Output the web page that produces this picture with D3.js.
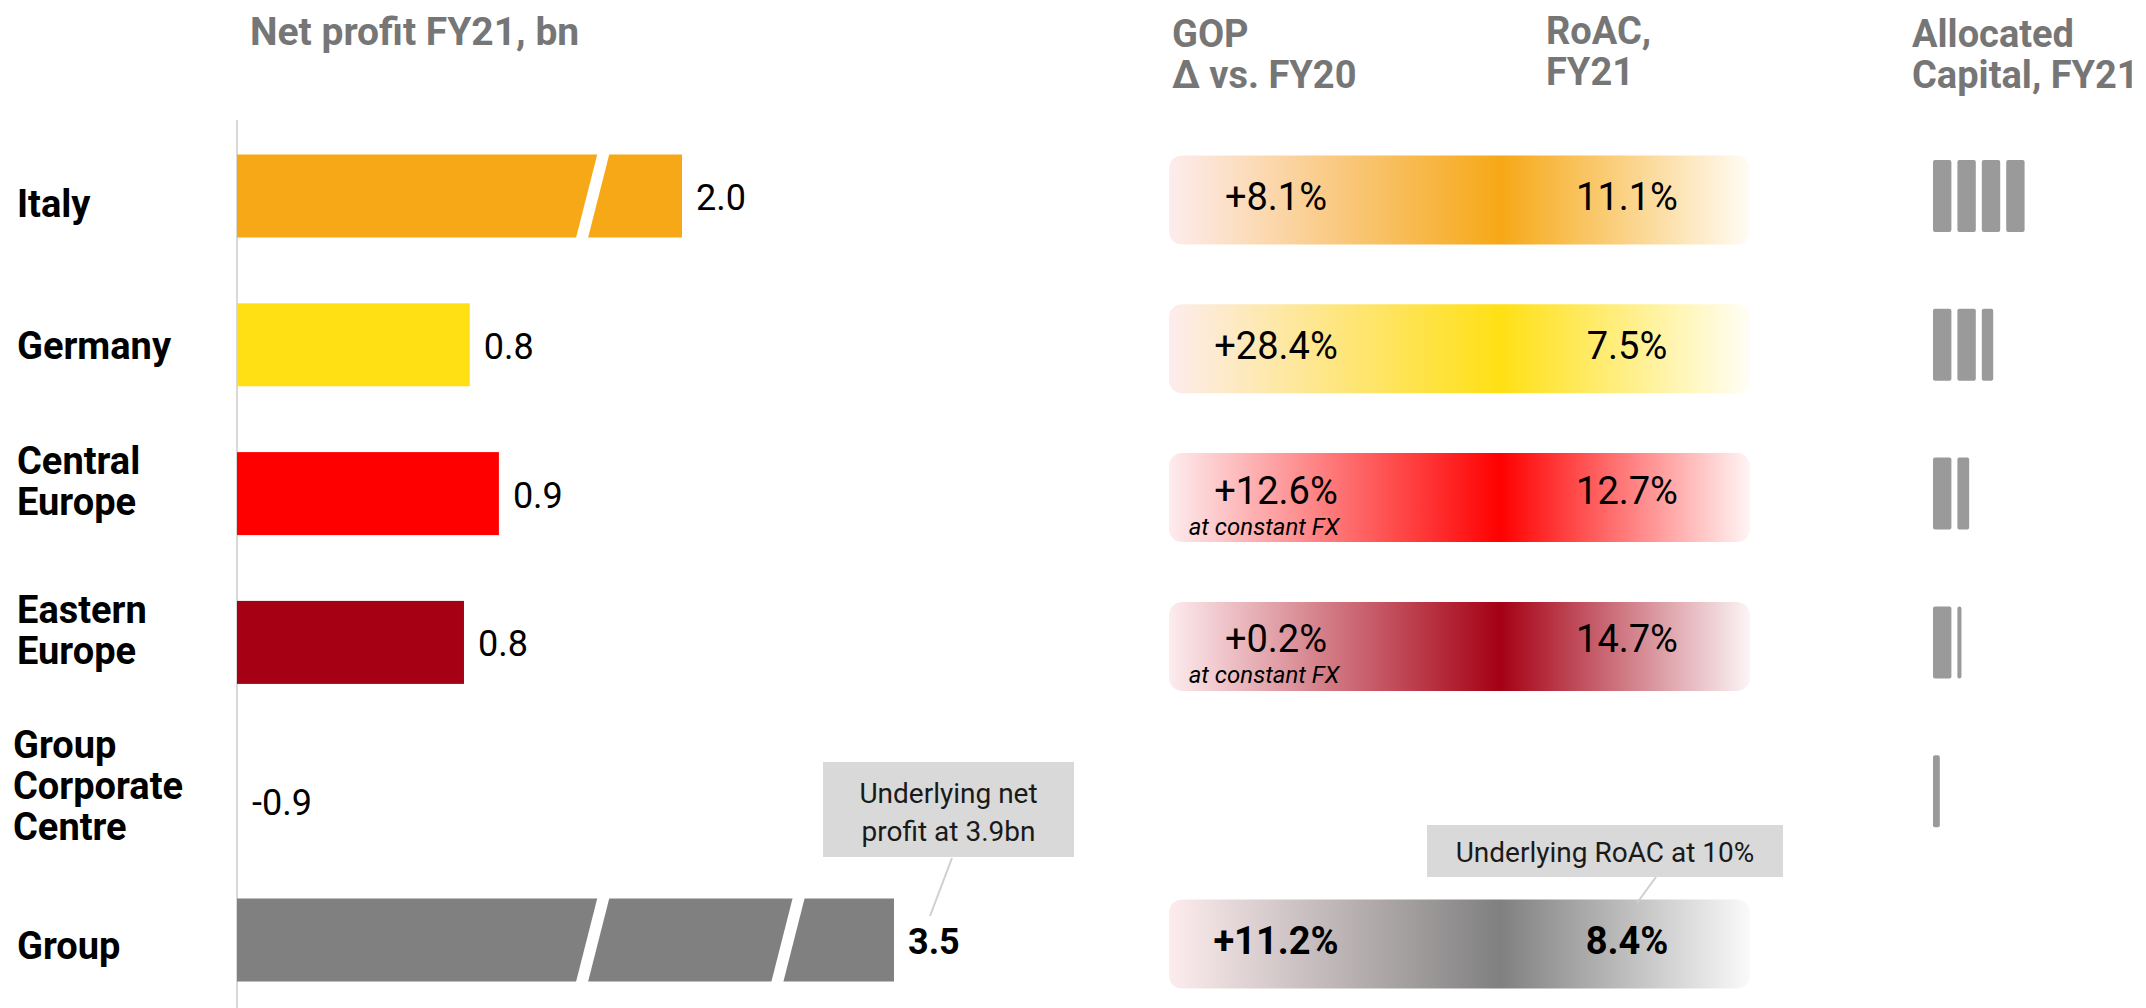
<!DOCTYPE html>
<html>
<head>
<meta charset="utf-8">
<script src="https://cdn.jsdelivr.net/npm/d3@7"></script>
<style>
  html, body { margin: 0; padding: 0; background: #fff; }
  svg { display: block; font-family: Roboto, "Noto Sans", "DejaVu Sans", sans-serif; }
</style>
</head>
<body>
<svg id="chart" width="2146" height="1008"></svg>
<script>
// ---------------- DATA ----------------
const categories = ["Italy", "Germany", "Central Europe", "Eastern Europe", "Group Corporate Centre", "Group"];
const categoryLines = [["Italy"], ["Germany"], ["Central", "Europe"], ["Eastern", "Europe"], ["Group", "Corporate", "Centre"], ["Group"]];
const netProfit = [2.0, 0.80, 0.90, 0.78, -0.9, 3.5];           // bn
const netProfitLabels = ["2.0", "0.8", "0.9", "0.8", "-0.9", "3.5"];
const gopDelta = [8.1, 28.4, 12.6, 0.2, null, 11.2];             // % vs FY20
const gopNotes = [null, null, "at constant FX", "at constant FX", null, null];
const roac = [11.1, 7.5, 12.7, 14.7, null, 8.4];                 // % FY21
const allocatedCapital = [4.0, 2.62, 1.64, 1.22, 0.37, null];    // capital blocks
const rowColors = ["#F6A816", "#FFE014", "#FF0000", "#A50014", null, "#808080"];
const axisBreaks = [1.42, 2.75];                                  // break marks on long bars
const headers = {
  net: ["Net profit FY21, bn"],
  gop: ["GOP", "Δ vs. FY20"],
  roac: ["RoAC,", "FY21"],
  cap: ["Allocated", "Capital, FY21"]
};
const netCallout = ["Underlying net", "profit at 3.9bn"];
const roacCallout = ["Underlying RoAC at 10%"];

// ---------------- SETUP ----------------
const svg = d3.select("#chart");
const totalIdx = categories.length - 1;
const rows = categories.map((c, i) => ({
  cat: c, lines: categoryLines[i], np: netProfit[i], npLabel: netProfitLabels[i],
  gop: gopDelta[i], note: gopNotes[i], roac: roac[i], cap: allocatedCapital[i],
  color: rowColors[i], total: i === totalIdx, i
}));

const y = d3.scaleBand().domain(categories).range([121.6, 1014.4]).padding(0);
const cy = c => y(c) + y.bandwidth() / 2;
// broken axis: compressed beyond 1bn
const x = d3.scaleLinear().domain([0, 1, 2, 3.5]).range([237, 528, 682, 894]);
const barH = 83;

const headColor = "#767676";

// ---------------- HEADERS ----------------
function header(lines, x0, base, size) {
  svg.append("text").attr("x", x0).attr("y", base)
    .attr("font-size", size).attr("font-weight", 700).attr("fill", headColor)
    .selectAll("tspan").data(lines).join("tspan")
    .attr("x", x0).attr("dy", (d, k) => k === 0 ? 0 : 41).text(d => d);
}
header(headers.net, 250, 45, 39);
header(headers.gop, 1172, 47, 38);
header(headers.roac, 1546, 44, 38);
header(headers.cap, 1912, 47, 38);

// ---------------- AXIS LINE ----------------
svg.append("line").attr("x1", x(0)).attr("x2", x(0)).attr("y1", 120).attr("y2", 1008)
  .attr("stroke", "#d9d9d9").attr("stroke-width", 2);

// ---------------- ROW LABELS ----------------
const labelG = svg.append("g");
rows.forEach(r => {
  const n = r.lines.length;
  const c = cy(r.cat);
  let base;
  if (n === 1) base = c + (r.i === 0 ? 21 : (r.total ? 19 : 14));
  else if (n === 2) base = c + 1 - 20.5;
  else base = c + 8 - 41;
  const lx = n === 3 ? 13 : 17;
  labelG.append("text").attr("x", lx).attr("y", base)
    .attr("font-size", 38).attr("font-weight", 700).attr("fill", "#000")
    .selectAll("tspan").data(r.lines).join("tspan")
    .attr("x", lx).attr("dy", (d, k) => k === 0 ? 0 : 41).text(d => d);
});

// ---------------- NET PROFIT BARS ----------------
const barG = svg.append("g");
rows.filter(r => r.np > 0).forEach(r => {
  const top = cy(r.cat) - barH / 2;
  barG.append("rect").attr("x", x(0)).attr("y", top)
    .attr("width", x(r.np) - x(0)).attr("height", barH).attr("fill", r.color);
  axisBreaks.filter(b => b < r.np).forEach(b => {
    const xb = x(b), s = 10.8, g = 6;
    const pts = [[xb - g - s, top + barH + 1], [xb + g - s, top + barH + 1],
                 [xb + g + s, top - 1], [xb - g + s, top - 1]];
    barG.append("polygon").attr("points", pts.map(p => p.join(",")).join(" ")).attr("fill", "#fff");
  });
});
rows.forEach(r => {
  const xEnd = r.np > 0 ? x(r.np) + 14 : x(0) + 15;
  barG.append("text").attr("x", xEnd).attr("y", cy(r.cat) + (r.np > 0 ? 14 : 24))
    .attr("font-size", 36).attr("font-weight", r.total ? 700 : 400).attr("fill", "#000")
    .text(r.npLabel);
});

// ---------------- GOP / RoAC PILLS ----------------
const defs = svg.append("defs");
const pillX = 1169, pillW = 581, pillH = 89;
const fmtGop = v => d3.format("+.1f")(v) + "%";
const fmtRoac = v => d3.format(".1f")(v) + "%";
rows.filter(r => r.gop !== null).forEach(r => {
  const id = "grad" + r.i;
  const lg = defs.append("linearGradient").attr("id", id)
    .attr("x1", "0%").attr("x2", "100%").attr("y1", "0%").attr("y2", "0%");
  lg.append("stop").attr("offset", "0%").attr("stop-color", "#fdecee");
  lg.append("stop").attr("offset", "57%").attr("stop-color", r.color);
  lg.append("stop").attr("offset", "100%").attr("stop-color", d3.interpolateRgb(r.color, "#fff")(0.96));
  const c = cy(r.cat);
  svg.append("rect").attr("x", pillX).attr("y", c + 4 - pillH / 2)
    .attr("width", pillW).attr("height", pillH).attr("rx", 13).attr("ry", 13)
    .attr("fill", `url(#${id})`);
  const base = c + (r.note ? 10 : 14);
  svg.append("text").attr("x", 1276).attr("y", base).attr("text-anchor", "middle")
    .attr("font-size", 38).attr("font-weight", r.total ? 700 : 400).attr("fill", "#000")
    .text(fmtGop(r.gop));
  svg.append("text").attr("x", 1627).attr("y", base).attr("text-anchor", "middle")
    .attr("font-size", 38).attr("font-weight", r.total ? 700 : 400).attr("fill", "#000")
    .text(fmtRoac(r.roac));
  if (r.note) {
    svg.append("text").attr("x", 1264).attr("y", c + 41).attr("text-anchor", "middle")
      .attr("font-size", 24).attr("font-style", "italic").attr("fill", "#000")
      .text(r.note);
  }
});

// ---------------- ALLOCATED CAPITAL BLOCKS ----------------
const blockW = d3.scaleLinear().domain([0, 1]).range([0, 18.4]);
const blockStep = 24.4, blockX0 = 1933, blockH = 72;
rows.filter(r => r.cap !== null).forEach(r => {
  const n = Math.ceil(r.cap - 1e-9);
  const parts = d3.range(n).map(k => Math.min(1, r.cap - k));
  svg.append("g").selectAll("rect").data(parts).join("rect")
    .attr("x", (d, k) => blockX0 + k * blockStep)
    .attr("y", cy(r.cat) - blockH / 2)
    .attr("width", d => blockW(d)).attr("height", blockH)
    .attr("rx", 2).attr("fill", "#9a9a9a");
});

// ---------------- CALLOUTS ----------------
// Net profit callout
svg.append("line").attr("x1", 952).attr("y1", 858).attr("x2", 930).attr("y2", 916)
  .attr("stroke", "#cfcfcf").attr("stroke-width", 2);
svg.append("rect").attr("x", 823).attr("y", 762).attr("width", 251).attr("height", 95).attr("fill", "#d9d9d9");
svg.append("text").attr("x", 948.5).attr("y", 803).attr("text-anchor", "middle")
  .attr("font-size", 28).attr("fill", "#1a1a1a")
  .selectAll("tspan").data(netCallout).join("tspan")
  .attr("x", 948.5).attr("dy", (d, k) => k === 0 ? 0 : 38).text(d => d);

// RoAC callout
svg.append("line").attr("x1", 1656).attr("y1", 877).attr("x2", 1637).attr("y2", 903)
  .attr("stroke", "#cfcfcf").attr("stroke-width", 2);
svg.append("rect").attr("x", 1427).attr("y", 825).attr("width", 356).attr("height", 52).attr("fill", "#d9d9d9");
svg.append("text").attr("x", 1605).attr("y", 862).attr("text-anchor", "middle")
  .attr("font-size", 28).attr("fill", "#1a1a1a").text(roacCallout[0]);
</script>
</body>
</html>
